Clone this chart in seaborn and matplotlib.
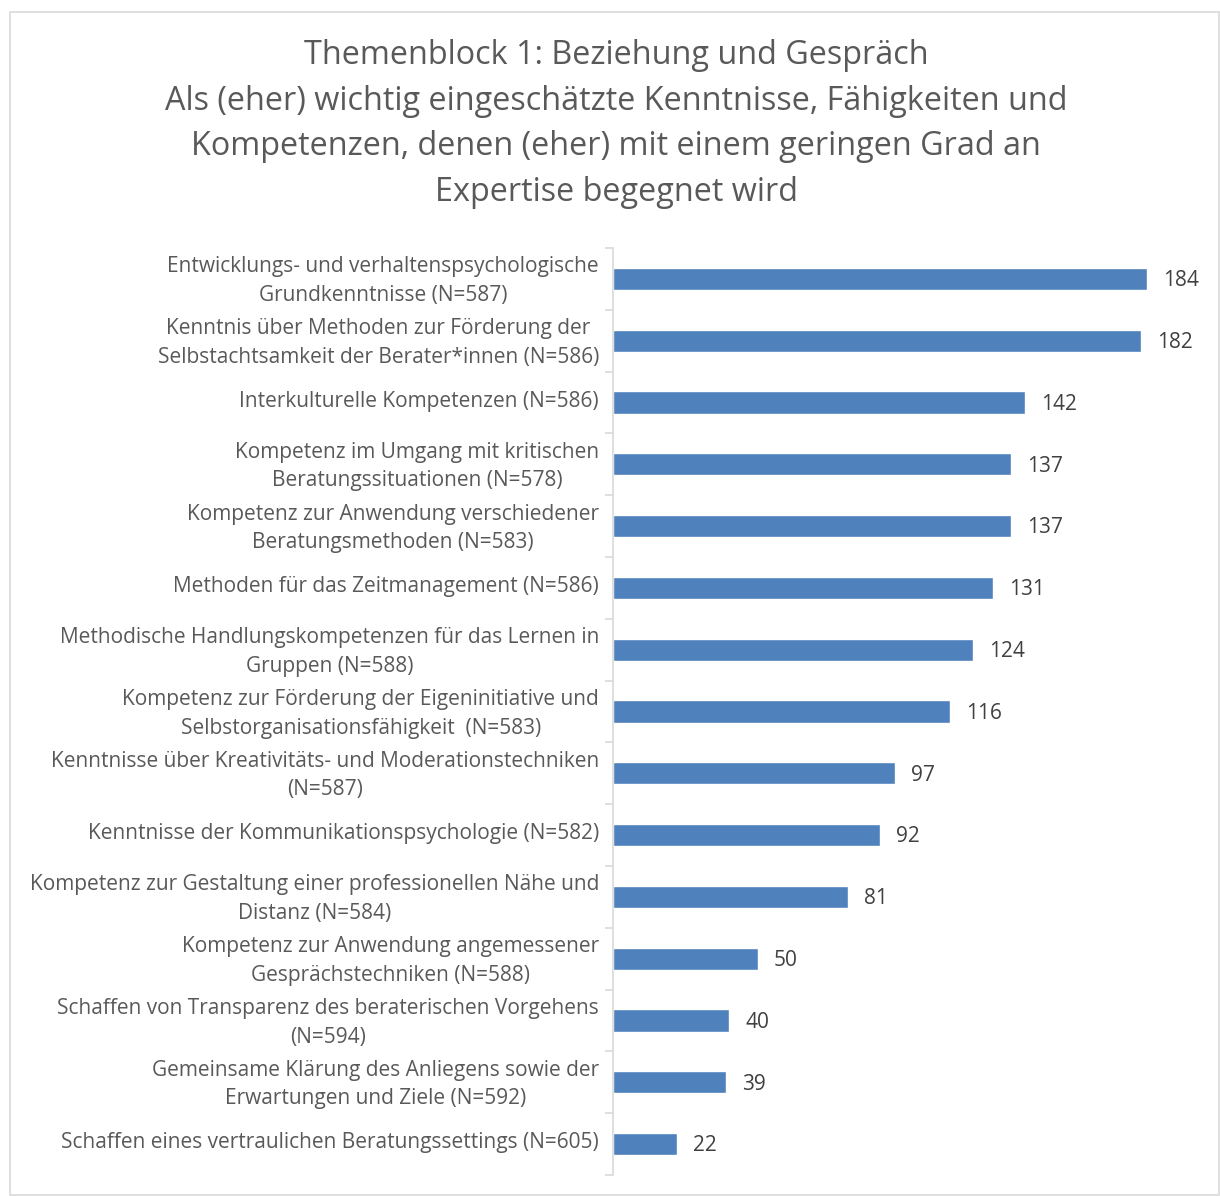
import matplotlib
matplotlib.use("Agg")
import matplotlib.pyplot as plt
import matplotlib.transforms as mtransforms
import seaborn as sns
import pandas as pd
from matplotlib.patches import Rectangle

categories = [
    "Entwicklungs- und verhaltenspsychologische\nGrundkenntnisse (N=587)",
    "Kenntnis über Methoden zur Förderung der\nSelbstachtsamkeit der Berater*innen (N=586)",
    "Interkulturelle Kompetenzen (N=586)",
    "Kompetenz im Umgang mit kritischen\nBeratungssituationen (N=578)",
    "Kompetenz zur Anwendung verschiedener\nBeratungsmethoden (N=583)",
    "Methoden für das Zeitmanagement (N=586)",
    "Methodische Handlungskompetenzen für das Lernen in\nGruppen (N=588)",
    "Kompetenz zur Förderung der Eigeninitiative und\nSelbstorganisationsfähigkeit  (N=583)",
    "Kenntnisse über Kreativitäts- und Moderationstechniken\n(N=587)",
    "Kenntnisse der Kommunikationspsychologie (N=582)",
    "Kompetenz zur Gestaltung einer professionellen Nähe und\nDistanz (N=584)",
    "Kompetenz zur Anwendung angemessener\nGesprächstechniken (N=588)",
    "Schaffen von Transparenz des beraterischen Vorgehens\n(N=594)",
    "Gemeinsame Klärung des Anliegens sowie der\nErwartungen und Ziele (N=592)",
    "Schaffen eines vertraulichen Beratungssettings (N=605)",
]
values = [184, 182, 142, 137, 137, 131, 124, 116, 97, 92, 81, 50, 40, 39, 22]
title = ("Themenblock 1: Beziehung und Gespräch\n"
         "Als (eher) wichtig eingeschätzte Kenntnisse, Fähigkeiten und\n"
         "Kompetenzen, denen (eher) mit einem geringen Grad an\n"
         "Expertise begegnet wird")

df = pd.DataFrame({"cat": categories, "val": values})

sns.set_theme(style="white")
plt.rcParams["font.family"] = ["Open Sans", "DejaVu Sans"]

W, H = 1220, 1196
fig = plt.figure(figsize=(W / 100, H / 100), dpi=100)
ax_left, ax_right, ax_top, ax_bottom = 613, 1200, 248, 1175
ax = fig.add_axes([ax_left / W, 1 - ax_bottom / H, (ax_right - ax_left) / W, (ax_bottom - ax_top) / H])

sns.barplot(data=df, y="cat", x="val", orient="h", color="#4F81BD", saturation=1,
            width=0.36, ax=ax)

px_per_unit = (1147 - 613) / 184
ax.set_xlim(0, (ax_right - ax_left) / px_per_unit)
ax.set_ylim(len(categories) - 0.5, -0.5)

for i, v in enumerate(values):
    ax.text(v + 16 / px_per_unit, i + 0.03, str(v), va="center", ha="left",
            fontsize=15, color="#404040")

for s in ["top", "right", "bottom"]:
    ax.spines[s].set_visible(False)
ax.spines["left"].set_color("#D9D9D9")
ax.spines["left"].set_linewidth(1.2)
ax.set_xticks([])
ax.set_xlabel("")
ax.set_ylabel("")
ax.set_yticks([i - 0.5 for i in range(len(categories) + 1)], minor=True)
ax.tick_params(axis="y", which="minor", length=6, width=1.2, color="#D9D9D9", left=True)
ax.tick_params(axis="y", which="major", length=0, pad=10, labelsize=15, labelcolor="#595959")
shift = mtransforms.ScaledTranslation(0, 4 / 100, fig.dpi_scale_trans)
for lbl in ax.get_yticklabels():
    lbl.set_horizontalalignment("right")
    lbl.set_multialignment("center")
    lbl.set_linespacing(1.48)
    lbl.set_transform(lbl.get_transform() + shift)

fig.text(616 / W, 1 - 124 / H, title, ha="center", va="center", fontsize=23.3,
         color="#595959", linespacing=1.5)

fig.patches.append(Rectangle((10 / W, 1 - 1195 / H), (1219 - 10) / W, (1195 - 12) / H,
                             transform=fig.transFigure, fill=False,
                             edgecolor="#D9D9D9", linewidth=1.2))

fig.savefig("out.png", dpi=100)
